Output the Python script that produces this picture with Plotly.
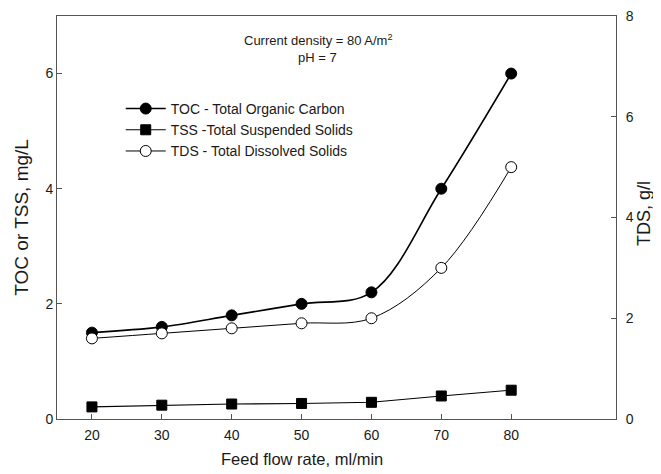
import plotly.graph_objects as go

flow_rate = [20, 30, 40, 50, 60, 70, 80]
toc = [1.5, 1.6, 1.8, 2.0, 2.2, 4.0, 6.0]
tss = [0.21, 0.24, 0.26, 0.27, 0.29, 0.40, 0.50]
tds = [1.6, 1.7, 1.8, 1.9, 2.0, 3.0, 5.0]

x_ticks = [20, 30, 40, 50, 60, 70, 80]
left_ticks = [0, 2, 4, 6]
right_ticks = [0, 2, 4, 6, 8]

font_family = "Liberation Sans, Arial, sans-serif"
txt = "#1a1a1a"

fig = go.Figure()
fig.add_trace(go.Scatter(
    x=flow_rate, y=toc, name="TOC - Total Organic Carbon",
    mode="lines+markers", line=dict(color="black", width=1.6, shape="spline", smoothing=1.0),
    marker=dict(symbol="circle", size=11, color="black", line=dict(color="black", width=1)),
))
fig.add_trace(go.Scatter(
    x=flow_rate, y=tss, name="TSS -Total Suspended Solids",
    mode="lines+markers", line=dict(color="black", width=1.1),
    marker=dict(symbol="square", size=10, color="black", line=dict(color="black", width=1)),
))
fig.add_trace(go.Scatter(
    x=flow_rate, y=tds, name="TDS - Total Dissolved Solids", yaxis="y2",
    mode="lines+markers", line=dict(color="black", width=1, shape="spline", smoothing=1.0),
    marker=dict(symbol="circle", size=11, color="white", line=dict(color="black", width=1)),
))

axis_common = dict(
    showgrid=False, zeroline=False, showline=True, linecolor="#555", linewidth=1,
    ticks="inside", ticklen=5, tickcolor="#555", automargin=False,
    ticklabeloverflow="allow",
    tickfont=dict(size=14, color=txt, family=font_family),
)

# The page body has an 8px default margin, so the figure is sized to fill the rest of the window.
fig.update_layout(
    width=653, height=466,
    margin=dict(l=49, r=45, t=8, b=55),
    paper_bgcolor="white", plot_bgcolor="white",
    font=dict(family=font_family, color=txt),
    showlegend=True,
    legend=dict(x=0.114, y=0.809, xanchor="left", yanchor="top",
                bgcolor="rgba(0,0,0,0)", font=dict(size=14, color=txt),
                tracegroupgap=0, itemwidth=40),
    xaxis=dict(range=[15, 95], tickvals=x_ticks, mirror=True, ticklabelstandoff=3, **axis_common),
    yaxis=dict(range=[0, 7], tickvals=left_ticks, **axis_common),
    yaxis2=dict(range=[0, 8], tickvals=right_ticks, overlaying="y", side="right",
                ticklabelstandoff=6, **axis_common),
    annotations=[
        dict(text="Current density = 80 A/m<sup>2</sup>", x=0.468, y=0.94, xref="paper", yref="paper",
             xanchor="center", yanchor="middle",
             showarrow=False, font=dict(size=13, color=txt)),
        dict(text="pH = 7", x=0.466, y=0.897, xref="paper", yref="paper",
             xanchor="center", yanchor="middle",
             showarrow=False, font=dict(size=13, color=txt)),
        dict(text="Feed flow rate, ml/min", x=50, y=-0.1, xref="x", yref="paper",
             xanchor="center", yanchor="middle",
             showarrow=False, font=dict(size=16.5, color=txt)),
        dict(text="TOC or TSS, mg/L", x=-0.064, y=0.5, xref="paper", yref="paper",
             xanchor="center", yanchor="middle",
             showarrow=False, textangle=-90, font=dict(size=19, color=txt)),
        dict(text="TDS, g/l", x=1.051, y=0.51, xref="paper", yref="paper",
             xanchor="center", yanchor="middle",
             showarrow=False, textangle=-90, font=dict(size=18, color=txt)),
    ],
)

fig.write_html("out.html")
